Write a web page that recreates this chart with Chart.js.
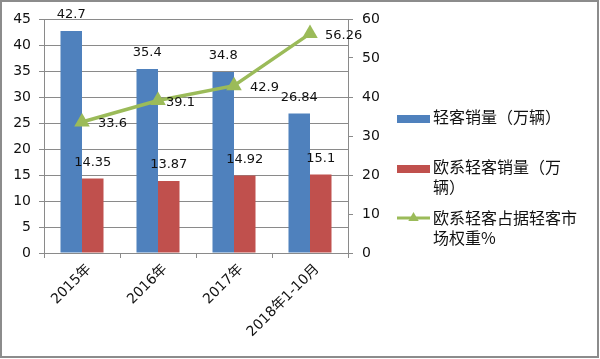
<!DOCTYPE html>
<html>
<head>
<meta charset="utf-8">
<script src="https://cdn.jsdelivr.net/npm/chart.js@4"></script>
<style>
html,body{margin:0;padding:0;background:#fff;}
#wrap{width:600px;height:359px;position:relative;}
</style>
</head>
<body>
<div id="wrap"><canvas id="c" width="600" height="359"></canvas></div>
<script>
const categories = ['2015年', '2016年', '2017年', '2018年1-10月'];
const lightVanSales = [42.7, 35.4, 34.8, 26.84];
const euroLightVanSales = [14.35, 13.87, 14.92, 15.1];
const euroShare = [33.6, 39.1, 42.9, 56.26];
const seriesNames = ['轻客销量（万辆）', '欧系轻客销量（万辆）', '欧系轻客占据轻客市场权重%'];
const leftAxis = {min: 0, max: 45, step: 5};
const rightAxis = {min: 0, max: 60, step: 10};

const BLUE = '#4F81BD', RED = '#C0504D', GREEN = '#9BBB59', GRID = '#8a8a8a';
const NUM_FONT = '"DejaVu Sans", "Noto Sans CJK SC", sans-serif';
const CJK_FONT = '"Noto Sans CJK SC", "DejaVu Sans", sans-serif';

const framePlugin = {
  id: 'frame',
  beforeDraw(chart) {
    const ctx = chart.ctx;
    ctx.save();
    ctx.fillStyle = '#fff';
    ctx.fillRect(0, 0, chart.width, chart.height);
    ctx.restore();
  },
  afterDraw(chart) {
    const ctx = chart.ctx;
    ctx.save();
    ctx.strokeStyle = '#8c8c8c';
    ctx.lineWidth = 2;
    ctx.strokeRect(1, 1, 597, 356);
    ctx.restore();
  }
};

const labelPlugin = {
  id: 'valueLabels',
  afterDatasetsDraw(chart) {
    const ctx = chart.ctx;
    ctx.save();
    ctx.font = '13px ' + NUM_FONT;
    ctx.fillStyle = '#111';
    chart.data.datasets.forEach((ds, di) => {
      const meta = chart.getDatasetMeta(di);
      meta.data.forEach((el, i) => {
        const v = ds.data[i];
        if (ds.type === 'line') {
          const dx = [16, 8, 16, 15][i];
          ctx.textAlign = 'left';
          ctx.textBaseline = 'middle';
          ctx.fillText(String(v), el.x + dx, el.y + 2);
        } else {
          ctx.textAlign = 'center';
          ctx.textBaseline = 'middle';
          ctx.fillText(String(v), el.x, el.y - 16);
        }
      });
    });
    ctx.restore();
  }
};

function wrapText(ctx, text, maxW) {
  const closers = '）)%，。、';
  const lines = [];
  let cur = '';
  const chars = Array.from(text);
  for (let i = 0; i < chars.length; i++) {
    const ch = chars[i];
    if (ctx.measureText(cur + ch).width > maxW && cur.length) {
      if (closers.includes(ch) && cur.length > 1) {
        const last = cur.slice(-1);
        lines.push(cur.slice(0, -1));
        cur = last + ch;
      } else {
        lines.push(cur);
        cur = ch;
      }
    } else {
      cur += ch;
    }
  }
  if (cur) lines.push(cur);
  return lines;
}

const legendPlugin = {
  id: 'sideLegend',
  afterDraw(chart) {
    const ctx = chart.ctx;
    const firstY = [117, 167, 218];
    const sx = 397, sw = 33, tx = 433;
    ctx.save();
    ctx.font = '16px ' + CJK_FONT;
    ctx.textAlign = 'left';
    ctx.textBaseline = 'middle';
    chart.data.datasets.forEach((ds, i) => {
      const y = firstY[i];
      if (ds.type === 'line') {
        ctx.strokeStyle = GREEN;
        ctx.lineWidth = 3;
        ctx.beginPath();
        ctx.moveTo(sx, y);
        ctx.lineTo(sx + sw, y);
        ctx.stroke();
        ctx.fillStyle = GREEN;
        const cx = sx + sw / 2, r = 6;
        ctx.beginPath();
        ctx.moveTo(cx, y - r);
        ctx.lineTo(cx + r * 0.866, y + r / 2);
        ctx.lineTo(cx - r * 0.866, y + r / 2);
        ctx.closePath();
        ctx.fill();
      } else {
        ctx.fillStyle = ds.backgroundColor;
        ctx.fillRect(sx, y - 2, sw, 8);
      }
      ctx.fillStyle = '#111';
      const lines = wrapText(ctx, ds.label, 150);
      lines.forEach((ln, k) => ctx.fillText(ln, tx, y + k * 20));
    });
    ctx.restore();
  }
};

new Chart(document.getElementById('c'), {
  data: {
    labels: categories,
    datasets: [
      {type: 'bar', label: seriesNames[0], data: lightVanSales, yAxisID: 'y', order: 1,
       backgroundColor: BLUE, categoryPercentage: 0.566, barPercentage: 1},
      {type: 'bar', label: seriesNames[1], data: euroLightVanSales, yAxisID: 'y', order: 1,
       backgroundColor: RED, categoryPercentage: 0.566, barPercentage: 1},
      {type: 'line', label: seriesNames[2], data: euroShare, yAxisID: 'y1', order: 0,
       borderColor: GREEN, backgroundColor: GREEN, borderWidth: 3.5,
       pointStyle: 'triangle', pointRadius: 9, pointBackgroundColor: GREEN, pointBorderColor: GREEN,
       pointBorderWidth: 0, tension: 0}
    ]
  },
  options: {
    responsive: false,
    animation: false,
    devicePixelRatio: 1,
    layout: {padding: {left: 0, top: 19, right: 202, bottom: 0}},
    plugins: {legend: {display: false}, tooltip: {enabled: false}},
    scales: {
      x: {
        offset: true,
        grid: {offset: true, drawOnChartArea: false, drawTicks: true, tickLength: 5, color: GRID},
        border: {display: true, color: GRID, width: 1},
        ticks: {color: '#111', font: {family: NUM_FONT, size: 14}, minRotation: 45, maxRotation: 45, padding: 3, labelOffset: 7, autoSkip: false},
        afterFit(s) { s.height = 106; }
      },
      y: {
        position: 'left',
        min: leftAxis.min, max: leftAxis.max,
        ticks: {stepSize: leftAxis.step, color: '#111', font: {family: NUM_FONT, size: 14}, padding: 8},
        grid: {color: GRID, tickLength: 5, drawTicks: true},
        border: {display: true, color: GRID, width: 1},
        afterFit(s) { s.width = 44; }
      },
      y1: {
        position: 'right',
        min: rightAxis.min, max: rightAxis.max,
        ticks: {stepSize: rightAxis.step, color: '#111', font: {family: NUM_FONT, size: 14}, padding: 9},
        grid: {drawOnChartArea: false, color: GRID, tickLength: 5, drawTicks: true},
        border: {display: true, color: GRID, width: 1},
        afterFit(s) { s.width = 50; }
      }
    }
  },
  plugins: [framePlugin, labelPlugin, legendPlugin]
});
</script>
</body>
</html>
